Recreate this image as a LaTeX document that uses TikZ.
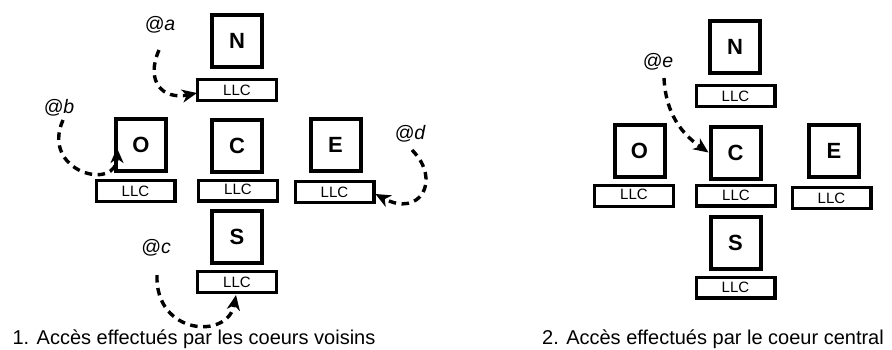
\documentclass[tikz,border=0pt]{standalone}
\usepackage{fontspec}
\setmainfont{Liberation Sans}
\usetikzlibrary{arrows.meta,calc}
\begin{document}
\begin{tikzpicture}[x=1pt,y=-1pt,
  core/.style={draw,line width=4pt,minimum width=50pt,minimum height=52pt,inner sep=0pt,font=\fontsize{22}{26}\selectfont\bfseries},
  llc/.style={draw,line width=3.4pt,minimum width=78.6pt,minimum height=20.6pt,inner sep=0pt,font=\fontsize{15}{18}\selectfont},
  lbl/.style={inner sep=0pt,font=\fontsize{19.5}{23}\selectfont\itshape},
  captxt/.style={inner sep=0pt,anchor=base,font=\fontsize{20}{24}\selectfont},
  acc/.style={line width=3.4pt,dash pattern=on 7.5pt off 5.5pt,-{Stealth[length=15pt,width=13pt,inset=4.5pt]}}]
\useasboundingbox (0,0) rectangle (892,349);
% left panel
\node[core] (N1) at (237,41) {N};
\node[llc] (NL1) at (237,90) {LLC};
\node[core] (O1) at (141,145) {O};
\node[llc] (OL1) at (135.5,191) {LLC};
\node[core] (C1) at (237,146) {C};
\node[llc] (CL1) at (238,190.5) {\raisebox{1.5pt}{LLC}};
\node[core] (E1) at (335.5,145) {E};
\node[llc] (EL1) at (334.5,192) {LLC};
\node[core] (S1) at (237,237) {S};
\node[llc] (SL1) at (237,282) {LLC};
\node[lbl] (la) at (160,25) {@a};
\node[lbl] (lb) at (59,108) {@b};
\node[lbl] (ld) at (410,134) {@d};
\node[lbl] (lc) at (156,248) {@c};
\coordinate (a0) at (159,50);
\coordinate (b0) at (63,120);
\coordinate (d0) at (412,150);
\coordinate (c0) at (157,275);
\draw[acc] (a0) .. controls (145,82) and (163,100) .. ($(NL1.west)+(1,3)$);
\draw[acc] (b0) .. controls (40,172) and (117,192) .. ($(O1.west)+(3,3)$);
\draw[acc] (d0) .. controls (442,180) and (420,218) .. ($(EL1.east)+(0,2)$);
\draw[acc] (c0) .. controls (155,335) and (228,340) .. ($(SL1.south)+(-1,1)$);
\node[captxt] (cap1) at (194,344.5) {1. Accès effectués par les coeurs voisins};
% right panel
\node[core] (N2) at (735,47) {N};
\node[llc] (NL2) at (735.5,96) {LLC};
\node[core] (O2) at (639.5,151) {O};
\node[llc] (OL2) at (634,196) {\raisebox{4pt}{LLC}};
\node[core] (C2) at (735.5,152.5) {C};
\node[llc] (CL2) at (736,195.5) {LLC};
\node[core] (E2) at (834,151) {E};
\node[llc] (EL2) at (831.5,198) {LLC};
\node[core] (S2) at (735.5,242.5) {S};
\node[llc] (SL2) at (735.5,287.5) {LLC};
\node[lbl] (le) at (658,62) {@e};
\coordinate (e0) at (664,78);
\draw[acc] (e0) .. controls (666,120) and (688,138) .. (C2.west);
\node[captxt] (cap2) at (713,344.5) {2. Accès effectués par le coeur central};
\end{tikzpicture}
\end{document}
